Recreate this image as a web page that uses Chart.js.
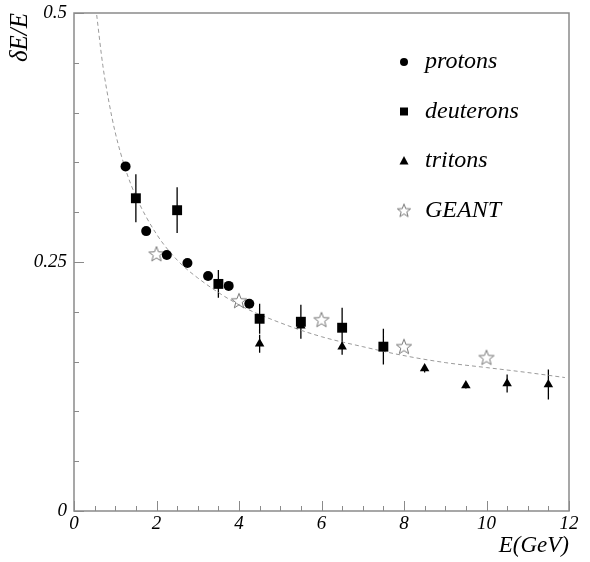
<!DOCTYPE html>
<html>
<head>
<meta charset="utf-8">
<script src="https://cdn.jsdelivr.net/npm/chart.js@4.4.1/dist/chart.umd.min.js"></script>
<style>
  body { margin: 0; background: #fff; }
</style>
</head>
<body>
<canvas id="resolution-chart" width="590" height="562"></canvas>
<script>
// data
let protonE = [1.25, 1.75, 2.25, 2.75, 3.25, 3.75, 4.25]
let protonRes = [0.346, 0.281, 0.257, 0.249, 0.236, 0.226, 0.208]

let deuteronE = [1.5, 2.5, 3.5, 4.5, 5.5, 6.5, 7.5]
let deuteronRes = [0.314, 0.302, 0.228, 0.193, 0.190, 0.184, 0.165]
let deuteronErr = [0.024, 0.023, 0.014, 0.015, 0.017, 0.020, 0.018]

let tritonE = [4.5, 5.5, 6.5, 8.5, 9.5, 10.5, 11.5]
let tritonRes = [0.168, 0.186, 0.165, 0.143, 0.126, 0.128, 0.127]
let tritonErr = [0.009, 0.010, 0.008, 0.004, 0.003, 0.009, 0.015]

let geantE = [2, 4, 6, 8, 10]
let geantRes = [0.258, 0.211, 0.192, 0.165, 0.154]

// dashed fit curve
let fitE = [0.55, 0.7, 0.85, 1.0, 1.25, 1.5, 2, 2.5, 3, 4, 5, 6, 7, 8, 9, 10, 11, 11.9]
let fitRes = [0.498, 0.447, 0.410, 0.380, 0.343, 0.316, 0.278, 0.252, 0.234, 0.207, 0.189, 0.175, 0.165, 0.156, 0.149, 0.144, 0.139, 0.134]

let xTickLabels = [0, 2, 4, 6, 8, 10, 12]
let yTickLabels = [0, 0.25, 0.5]

let serif = 'Liberation Serif'
let frameColor = '#8a8a8a'

function points(xs, ys) {
    return xs.map((x, i) => ({x: x, y: ys[i]}))
}

function inList(list, v) {
    return list.some(t => Math.abs(t - v) < 1e-6)
}

// open star marker (GEANT)
function starImage(size, color) {
    let c = document.createElement('canvas')
    c.width = size
    c.height = size
    let g = c.getContext('2d')
    let r = size / 2 - 1
    let ri = r * 0.42
    let cx = size / 2, cy = size / 2 + 0.5
    g.beginPath()
    for (let i = 0; i < 10; i++) {
        let a = -Math.PI / 2 + i * Math.PI / 5
        let rr = i % 2 ? ri : r
        g.lineTo(cx + rr * Math.cos(a), cy + rr * Math.sin(a))
    }
    g.closePath()
    g.strokeStyle = color
    g.lineWidth = 1
    g.stroke()
    return c
}

let starBig = starImage(18, '#777')
let starSmall = starImage(16, '#777')

// frame and inward tick marks
let framePlugin = {
    id: 'frame',
    beforeDatasetsDraw(chart) {
        let {ctx, chartArea: a, scales} = chart
        ctx.save()
        ctx.strokeStyle = frameColor
        ctx.lineWidth = 1.5
        ctx.strokeRect(a.left, a.top, a.right - a.left, a.bottom - a.top)
        ctx.lineWidth = 1
        ctx.beginPath()
        scales.x.ticks.forEach(t => {
            let px = Math.round(scales.x.getPixelForValue(t.value)) + 0.5
            let len = inList(xTickLabels, t.value) ? 10 : 5
            ctx.moveTo(px, a.bottom)
            ctx.lineTo(px, a.bottom - len)
        })
        scales.y.ticks.forEach(t => {
            let py = Math.round(scales.y.getPixelForValue(t.value)) + 0.5
            let len = inList(yTickLabels, t.value) ? 10 : 5
            ctx.moveTo(a.left, py)
            ctx.lineTo(a.left + len, py)
        })
        ctx.stroke()
        ctx.restore()
    }
}

// vertical error bars
let errorPlugin = {
    id: 'errors',
    beforeDatasetsDraw(chart) {
        let {ctx, scales} = chart
        let sets = [[deuteronE, deuteronRes, deuteronErr], [tritonE, tritonRes, tritonErr]]
        ctx.save()
        ctx.strokeStyle = '#000'
        ctx.lineWidth = 1.3
        ctx.beginPath()
        sets.forEach(([xs, ys, es]) => {
            xs.forEach((x, i) => {
                let px = scales.x.getPixelForValue(x)
                ctx.moveTo(px, scales.y.getPixelForValue(ys[i] + es[i]))
                ctx.lineTo(px, scales.y.getPixelForValue(ys[i] - es[i]))
            })
        })
        ctx.stroke()
        ctx.restore()
    }
}

// legend in the top right of the plot
let legendPlugin = {
    id: 'boxLegend',
    afterDraw(chart) {
        let ctx = chart.ctx
        let rows = chart.data.datasets.slice(0, 4)
        ctx.save()
        ctx.font = 'italic 24px "' + serif + '"'
        ctx.textBaseline = 'middle'
        ctx.fillStyle = '#000'
        rows.forEach((ds, i) => {
            let y = 62 + i * 49.5
            let x = 404
            if (ds.pointStyle instanceof HTMLCanvasElement) {
                ctx.drawImage(starSmall, x - 8, y - 8)
            } else {
                ctx.beginPath()
                if (ds.pointStyle === 'circle') ctx.arc(x, y, 4, 0, 2 * Math.PI)
                if (ds.pointStyle === 'rect') ctx.rect(x - 4, y - 4, 8, 8)
                if (ds.pointStyle === 'triangle') {
                    ctx.moveTo(x, y - 5)
                    ctx.lineTo(x + 4.5, y + 3.5)
                    ctx.lineTo(x - 4.5, y + 3.5)
                    ctx.closePath()
                }
                ctx.fill()
            }
            ctx.fillText(ds.label, 425, y)
        })
        ctx.restore()
    }
}

let tickFont = {family: serif, style: 'italic', size: 19}

let canvas = document.querySelector('#resolution-chart')
let context = canvas.getContext('2d')

let chart = new Chart(context, {
    type: 'scatter',
    data: {
        datasets: [
            {label: 'protons', data: points(protonE, protonRes), pointStyle: 'circle', pointRadius: 5,
             backgroundColor: '#000', borderColor: '#000', borderWidth: 0},
            {label: 'deuterons', data: points(deuteronE, deuteronRes), pointStyle: 'rect', pointRadius: 7,
             backgroundColor: '#000', borderColor: '#000', borderWidth: 0},
            {label: 'tritons', data: points(tritonE, tritonRes), pointStyle: 'triangle', pointRadius: 5.5,
             backgroundColor: '#000', borderColor: '#000', borderWidth: 0},
            {label: 'GEANT', data: points(geantE, geantRes), pointStyle: starBig, pointRadius: 9},
            {label: 'fit', data: points(fitE, fitRes), showLine: true, pointRadius: 0,
             borderColor: '#9a9a9a', borderWidth: 1, borderDash: [4, 3], cubicInterpolationMode: 'monotone'}
        ]
    },
    options: {
        responsive: false,
        animation: false,
        events: [],
        layout: {padding: {top: 13, right: 21, left: 0, bottom: 0}},
        plugins: {legend: {display: false}, tooltip: {enabled: false}},
        scales: {
            x: {
                type: 'linear', min: 0, max: 12,
                afterFit(s) { s.height = 51; s.paddingLeft = 0; s.paddingRight = 0 },
                border: {display: false},
                grid: {display: false, drawTicks: false},
                ticks: {
                    stepSize: 0.5, autoSkip: false, maxRotation: 0, padding: 2,
                    color: '#000', font: tickFont,
                    callback: v => inList(xTickLabels, v) ? String(Math.round(v)) : ''
                },
                title: {display: true, text: 'E(GeV)', align: 'end', color: '#000',
                        font: {family: serif, style: 'italic', size: 23}, padding: {top: 0, bottom: 2}}
            },
            y: {
                type: 'linear', min: 0, max: 0.5,
                afterFit(s) { s.width = 74; s.paddingTop = 0; s.paddingBottom = 0 },
                border: {display: false},
                grid: {display: false, drawTicks: false},
                ticks: {
                    stepSize: 0.05, autoSkip: false, padding: 7,
                    color: '#000', font: tickFont,
                    callback: v => inList(yTickLabels, v) ? String(Number(v.toFixed(2))) : ''
                },
                title: {display: true, text: 'δE/E', align: 'end', color: '#000',
                        font: {family: serif, style: 'italic', size: 25}, padding: {top: 5, bottom: 0}}
            }
        }
    },
    plugins: [framePlugin, errorPlugin, legendPlugin]
})
</script>
</body>
</html>
